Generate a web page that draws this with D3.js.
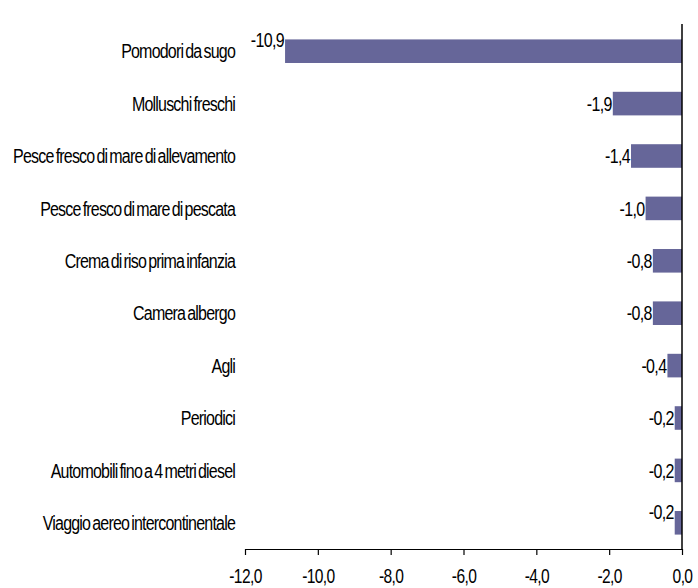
<!DOCTYPE html>
<html>
<head>
<meta charset="utf-8">
<script src="https://cdn.jsdelivr.net/npm/d3@7"></script>
<style>
  html, body { margin: 0; padding: 0; background: #fff; }
  svg { display: block; }
  text { font-family: "Liberation Sans", Arial, sans-serif; fill: #000; }
</style>
</head>
<body>
<svg id="chart" width="698" height="588"></svg>
<script>
// Variazioni congiunturali più marcate (valori negativi, %)
const categories = [
  "Pomodori da sugo",
  "Molluschi freschi",
  "Pesce fresco di mare di allevamento",
  "Pesce fresco di mare di pescata",
  "Crema di riso prima infanzia",
  "Camera albergo",
  "Agli",
  "Periodici",
  "Automobili fino a 4 metri diesel",
  "Viaggio aereo intercontinentale"
];
const values = [-10.9, -1.9, -1.4, -1.0, -0.8, -0.8, -0.4, -0.2, -0.2, -0.2];
const tickValues = [-12, -10, -8, -6, -4, -2, 0];

const svg = d3.select("#chart");
const fmt = v => d3.format(".1f")(v).replace(".", ",").replace("−", "-");

const x = d3.scaleLinear().domain([-12, 0]).range([245, 682]);
const y = d3.scaleBand().domain(categories).range([25, 549])
  .paddingInner(0.55).paddingOuter(0.275);

const fontSize = 20;
const half = 7.2;   // half cap height, to centre text on a bar

// bars
svg.append("g").selectAll("rect")
  .data(categories)
  .join("rect")
  .attr("x", (d, i) => x(values[i]))
  .attr("y", d => y(d))
  .attr("width", (d, i) => x(0) - x(values[i]))
  .attr("height", y.bandwidth())
  .attr("fill", "#666699");

// value labels, placed just left of each bar
svg.append("g").selectAll("text")
  .data(categories)
  .join("text")
  .attr("text-anchor", "end")
  .attr("font-size", fontSize)
  .attr("letter-spacing", -0.8)
  .attr("transform", (d, i) => {
    const lift = (i === 0 || i === categories.length - 1) ? 11 : 0;
    const ty = y(d) + y.bandwidth() / 2 + half - lift;
    return `translate(${x(values[i]) - 1},${ty}) scale(0.8,1)`;
  })
  .text((d, i) => fmt(values[i]));

// category labels
svg.append("g").selectAll("text")
  .data(categories)
  .join("text")
  .attr("text-anchor", "end")
  .attr("font-size", fontSize)
  .attr("letter-spacing", -1)
  .attr("word-spacing", -2)
  .attr("transform", d => `translate(235,${y(d) + y.bandwidth() / 2 + half}) scale(0.8,1)`)
  .text(d => d);

// x axis
const xAxis = svg.append("g")
  .attr("transform", `translate(0,549)`)
  .call(d3.axisBottom(x).tickValues(tickValues).tickSize(6).tickSizeOuter(0).tickFormat(fmt));
xAxis.select(".domain").attr("stroke", "#000").attr("stroke-width", 1.2);
xAxis.selectAll(".tick line").attr("stroke", "#000").attr("stroke-width", 1.2);
xAxis.selectAll(".tick text")
  .attr("font-family", "Liberation Sans, Arial, sans-serif")
  .attr("font-size", fontSize)
  .attr("letter-spacing", -0.8)
  .attr("fill", "#000")
  .attr("y", 0).attr("dy", null)
  .attr("transform", `translate(0,34) scale(0.78,1)`);

// zero line
svg.append("line")
  .attr("x1", x(0)).attr("x2", x(0))
  .attr("y1", 24).attr("y2", 549)
  .attr("stroke", "#000").attr("stroke-width", 1.5);
</script>
</body>
</html>
